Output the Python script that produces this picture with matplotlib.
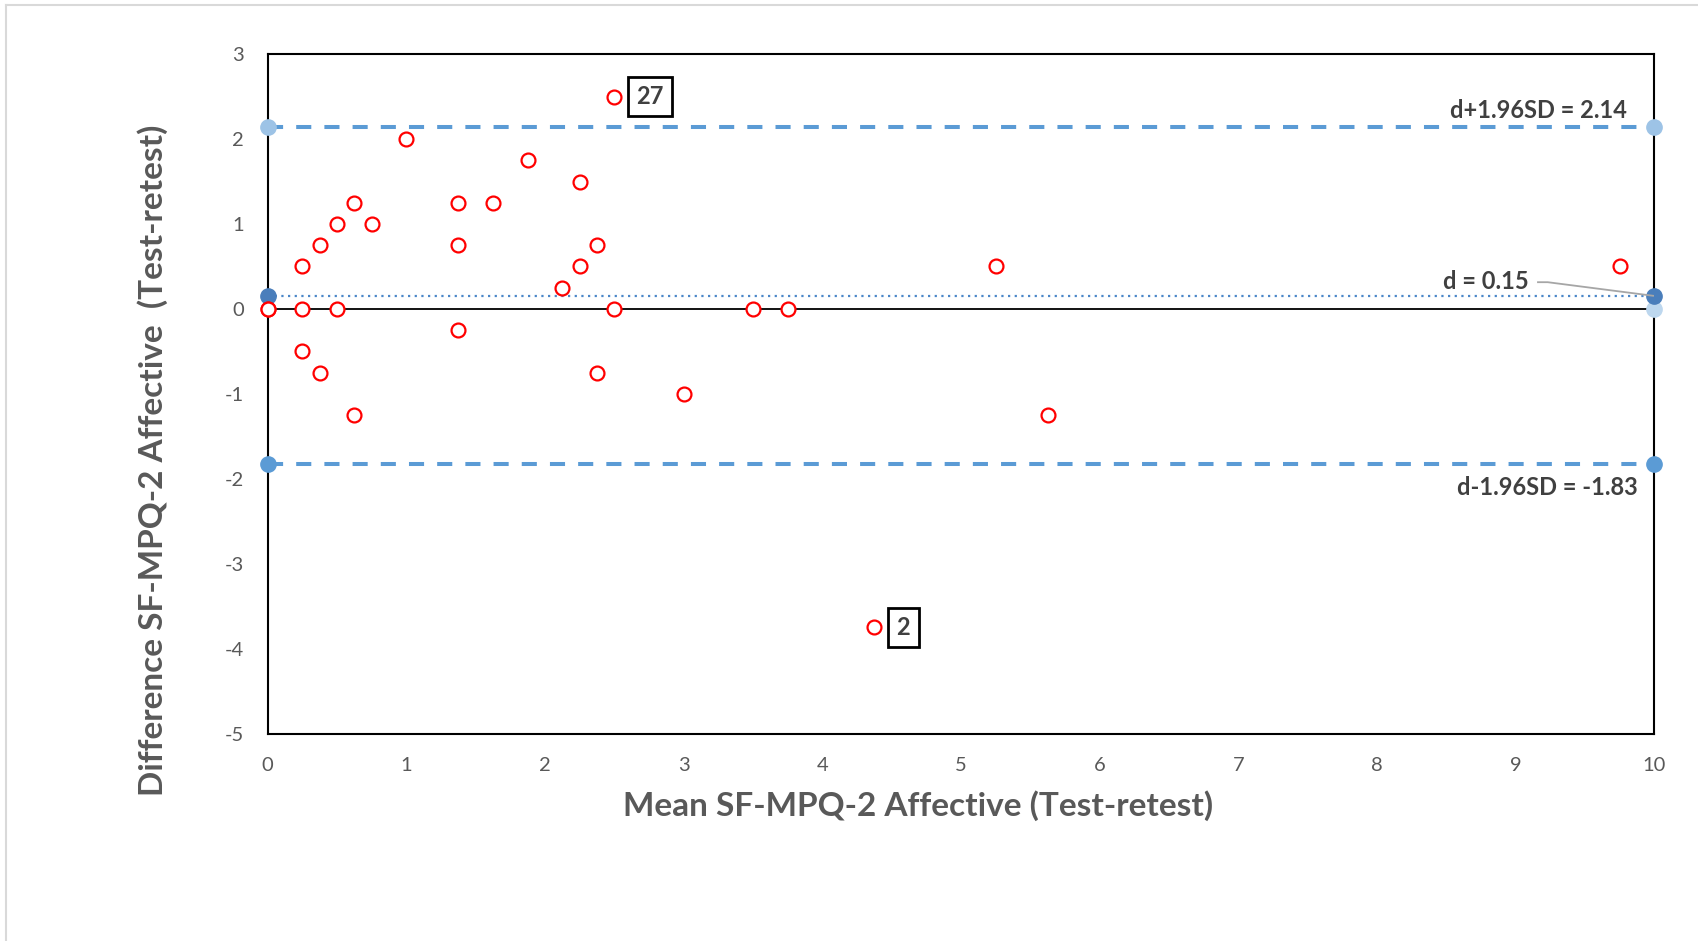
import numpy as np
import matplotlib
matplotlib.use("Agg")
import matplotlib.pyplot as plt
from matplotlib.lines import Line2D

plt.rcParams['font.family'] = ['Lato', 'DejaVu Sans']
plt.rcParams['axes.unicode_minus'] = False

# Bland-Altman data: mean of test-retest vs difference
mean_vals = [0, 0, 0.25, 0.25, 0.25, 0.375, 0.375, 0.5, 0.5, 0.625, 0.625, 0.75,
             1.0, 1.375, 1.375, 1.375, 1.625, 1.875, 2.125, 2.25, 2.25, 2.375, 2.375,
             2.5, 2.5, 3.0, 3.5, 3.75, 4.375, 5.25, 5.625, 9.75]
diff_vals = [0, 0, 0.5, 0, -0.5, 0.75, -0.75, 1.0, 0, 1.25, -1.25, 1.0,
             2.0, 1.25, 0.75, -0.25, 1.25, 1.75, 0.25, 1.5, 0.5, 0.75, -0.75,
             2.5, 0, -1.0, 0, 0, -3.75, 0.5, -1.25, 0.5]

bias = 0.15
upper_loa = 2.14
lower_loa = -1.83
x_range = [0, 10]

labels = {'upper': 'd+1.96SD = 2.14', 'bias': 'd = 0.15', 'lower': 'd-1.96SD = -1.83'}
outliers = [('27', 2.5, 2.5), ('2', 4.375, -3.75)]

xlabel = 'Mean SF-MPQ-2 Affective (Test-retest)'
ylabel = 'Difference SF-MPQ-2 Affective  (Test-retest)'

fig = plt.figure(figsize=(16.99, 9.41), dpi=100)
ax = fig.add_axes([0.1575, 0.2205, 0.8163, 0.7219])

# outer chart frame (left/top edges visible)
fig.add_artist(Line2D([6 / 1699, 6 / 1699], [0, 1 - 5 / 941], color='#D9D9D9', lw=1.5))
fig.add_artist(Line2D([6 / 1699, 1], [1 - 5 / 941, 1 - 5 / 941], color='#D9D9D9', lw=1.5))

# zero line
ax.plot(x_range, [0, 0], color='black', lw=1.3, zorder=2)
ax.plot([x_range[1]], [0], 'o', color='#BDD7EE', ms=11, zorder=3, clip_on=False)

# limits of agreement
ax.plot(x_range, [upper_loa] * 2, color='#5B9BD5', lw=2.9, dashes=(3.75, 3.25), zorder=2)
ax.plot(x_range, [upper_loa] * 2, 'o', color='#9DC3E6', ms=11, zorder=3, clip_on=False)
ax.plot(x_range, [lower_loa] * 2, color='#5B9BD5', lw=2.9, dashes=(3.75, 3.25), zorder=2)
ax.plot(x_range, [lower_loa] * 2, 'o', color='#5B9BD5', ms=11, zorder=3, clip_on=False)

# mean difference
ax.plot(x_range, [bias] * 2, color='#4A86C8', lw=1.6, linestyle=(0, (1, 2)), zorder=2)
ax.plot(x_range, [bias] * 2, 'o', color='#4A7EBB', ms=11, zorder=3, clip_on=False)

# data points
ax.plot(mean_vals, diff_vals, 'o', mfc='white', mec='#FF0000', mew=1.6, ms=10,
        linestyle='none', zorder=4, clip_on=False)

# line labels
txt_kw = dict(fontsize=17, fontweight='bold', color='#404040')
ax.text(9.80, 2.337, labels['upper'], ha='right', va='center', **txt_kw)
ax.text(9.09, 0.32, labels['bias'], ha='right', va='center', **txt_kw)
ax.text(9.88, -2.097, labels['lower'], ha='right', va='center', **txt_kw)
ax.plot([9.16, 9.23, 9.99], [0.315, 0.315, 0.155], color='#A6A6A6', lw=1.3, zorder=3)

# outlier tags
for lab, ox, oy in outliers:
    ax.annotate(lab, (ox, oy), xytext=(16, 0), textcoords='offset points',
                ha='left', va='center', fontsize=17, fontweight='bold', color='#404040',
                bbox=dict(boxstyle='square,pad=0.35', fc='white', ec='black', lw=2))

ax.set_xlim(0, 10)
ax.set_ylim(-5, 3)
ax.set_xticks(np.arange(0, 11, 1))
ax.set_yticks(np.arange(-5, 4, 1))
ax.tick_params(length=0, labelsize=14.5, labelcolor='#595959')
ax.tick_params(axis='y', pad=17)
ax.tick_params(axis='x', pad=17)
for sp in ax.spines.values():
    sp.set_linewidth(1.5)
    sp.set_color('black')

ax.set_xlabel(xlabel, fontsize=24, fontweight='bold', color='#595959')
ax.set_ylabel(ylabel, fontsize=24, fontweight='bold', color='#595959')
ax.xaxis.set_label_coords(0.469, -0.084)
ax.yaxis.set_label_coords(-0.072, 0.402)

fig.savefig('out.png', dpi=100)
